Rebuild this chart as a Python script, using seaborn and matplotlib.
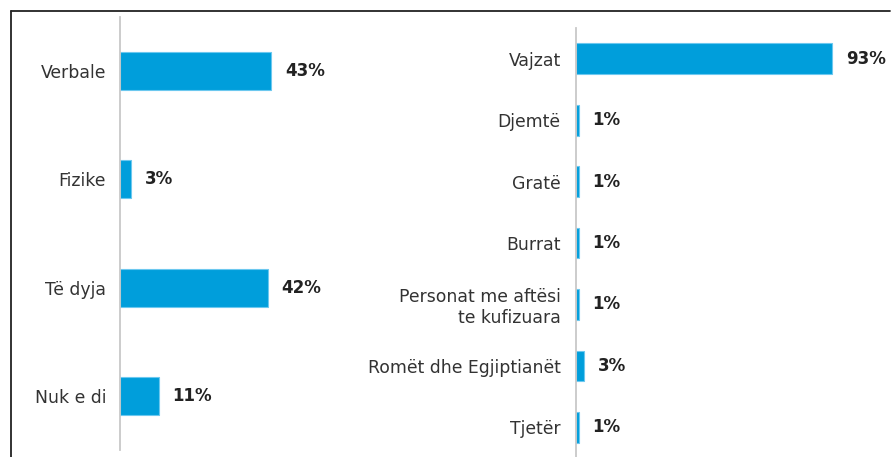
import matplotlib
matplotlib.use("Agg")
import matplotlib.pyplot as plt
from matplotlib.lines import Line2D
import seaborn as sns

# Form of the behaviour
forms = ["Verbale", "Fizike", "Të dyja", "Nuk e di"]
form_pct = [43, 3, 42, 11]

# Who is targeted
groups = ["Vajzat", "Djemtë", "Gratë", "Burrat",
          "Personat me aftësi\nte kufizuara", "Romët dhe Egjiptianët", "Tjetër"]
group_pct = [93, 1, 1, 1, 1, 3, 1]

sns.set_theme(style="white")
plt.rcParams["font.family"] = ["DejaVu Sans"]

BAR = "#009edb"
EDGE = "#6cc8ef"
TEXT = "#333333"
W, H = 891, 457

fig = plt.figure(figsize=(W / 100, H / 100), dpi=100)
fig.patch.set_facecolor("white")


def style(ax, values, pad):
    for side in ("top", "right", "bottom"):
        ax.spines[side].set_visible(False)
    ax.spines["left"].set_color("#c8c8c8")
    ax.spines["left"].set_linewidth(1.3)
    ax.set_xticks([])
    ax.set_xlabel("")
    ax.set_ylabel("")
    ax.tick_params(axis="y", length=0, pad=pad, labelsize=12.4, labelcolor=TEXT)
    ax.bar_label(ax.containers[0], labels=[f"{v}%" for v in values],
                 padding=10, fontsize=12, fontweight="bold", color="#222222")
    ax.set_facecolor("none")


# Left panel
ax1 = fig.add_axes([120 / W, 1 - 450 / H, 281 / W, 433 / H])
sns.barplot(x=form_pct, y=forms, ax=ax1, color=BAR, saturation=1,
            width=0.35, edgecolor=EDGE, linewidth=0.8, orient="h")
ax1.set_xlim(0, 80)
ax1.set_ylim(3.5, -0.5)
style(ax1, form_pct, 10)

# Right panel
ax2 = fig.add_axes([576 / W, 1 - 458 / H, 315 / W, 430 / H])
sns.barplot(x=group_pct, y=groups, ax=ax2, color=BAR, saturation=1,
            width=0.5, edgecolor=EDGE, linewidth=0.8, orient="h")
ax2.set_xlim(0, 114.5)
ax2.set_ylim(6.5, -0.5)
style(ax2, group_pct, 11)

# Outer frame (left and top edges)
fx = 11 / W
fy = 1 - 10.5 / H
fig.add_artist(Line2D([fx, fx], [0, fy], color="#222222", lw=1.3))
fig.add_artist(Line2D([fx, 890 / W], [fy, fy], color="#222222", lw=1.3))

fig.savefig("out.png", dpi=100, facecolor="white")
